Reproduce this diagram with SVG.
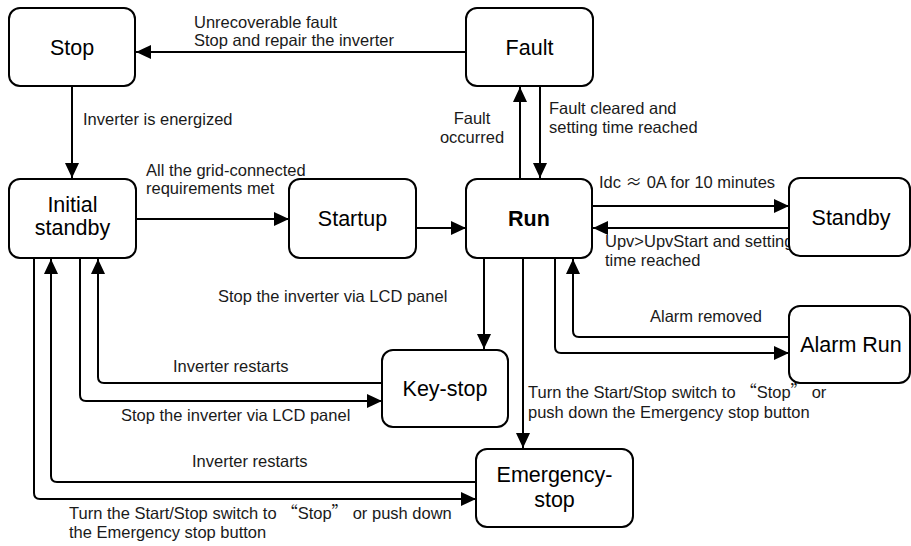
<svg xmlns="http://www.w3.org/2000/svg" width="911" height="546" viewBox="0 0 911 546">
  <style>
    .box { fill: #ffffff; stroke: #000000; stroke-width: 2; }
    .name { font-family: "Liberation Sans", Arial, sans-serif; font-size: 21.5px; fill: #000000; text-anchor: middle; }
    .bold { font-weight: bold; }
    .lbl { font-family: "Liberation Sans", Arial, sans-serif; font-size: 16.5px; fill: #1a1a1a; }
    .mid { text-anchor: middle; }
    .q { font-family: "Noto Sans CJK SC", sans-serif; }
    .wire { fill: none; stroke: #000000; stroke-width: 2; }
    .arr { marker-end: url(#head); }
  </style>
  <defs>
    <marker id="head" markerUnits="userSpaceOnUse" markerWidth="16" markerHeight="14" refX="15" refY="7" orient="auto">
      <path d="M0,0 L15,7 L0,14 Z" fill="#000000"/>
    </marker>
  </defs>
  <rect width="911" height="546" fill="#ffffff"/>

  <!-- transitions -->
  <g id="connectors">
    <path class="wire arr" d="M466,52 L136,52"/>
    <path class="wire arr" d="M72,86 L72,178"/>
    <path class="wire arr" d="M136,219 L289,219"/>
    <path class="wire arr" d="M416,228 L466,228"/>
    <path class="wire arr" d="M520,179 L520,87"/>
    <path class="wire arr" d="M540,86 L540,178"/>
    <path class="wire arr" d="M592,206 L789,206"/>
    <path class="wire arr" d="M789,228 L593,228"/>
    <path class="wire arr" d="M789,337 L579,337 Q573,337 573,331 L573,259"/>
    <path class="wire arr" d="M555,258 L555,347 Q555,353 561,353 L789,353"/>
    <path class="wire arr" d="M484,258 L484,349"/>
    <path class="wire arr" d="M523,258 L523,448"/>
    <path class="wire arr" d="M382,383 L104,383 Q98,383 98,377 L98,259"/>
    <path class="wire arr" d="M80,258 L80,395 Q80,401 86,401 L382,401"/>
    <path class="wire arr" d="M476,482 L57,482 Q51,482 51,476 L51,259"/>
    <path class="wire arr" d="M34,258 L34,493 Q34,499 40,499 L476,499"/>
  </g>

  <!-- transition labels -->
  <g id="labels">
    <text class="lbl" x="194" y="28">Unrecoverable fault</text>
    <text class="lbl" x="194" y="46">Stop and repair the inverter</text>
    <text class="lbl" x="83" y="125">Inverter is energized</text>
    <text class="lbl" x="146" y="176">All the grid-connected</text>
    <text class="lbl" x="146" y="194">requirements met</text>
    <text class="lbl mid" x="472" y="124">Fault</text>
    <text class="lbl mid" x="472" y="143">occurred</text>
    <text class="lbl" x="549" y="114">Fault cleared and</text>
    <text class="lbl" x="549" y="133">setting time reached</text>
    <text class="lbl" x="599" y="188">Idc <tspan class="q">≈</tspan> 0A for 10 minutes</text>
    <text class="lbl" x="605" y="247">Upv&gt;UpvStart and setting</text>
    <text class="lbl" x="605" y="266">time reached</text>
    <text class="lbl" x="650" y="322">Alarm removed</text>
    <text class="lbl" x="218" y="302">Stop the inverter via LCD panel</text>
    <text class="lbl" x="528" y="398">Turn the Start/Stop switch to <tspan class="q">“</tspan>Stop<tspan class="q">”</tspan> or</text>
    <text class="lbl" x="528" y="418">push down the Emergency stop button</text>
    <text class="lbl" x="173" y="372">Inverter restarts</text>
    <text class="lbl" x="121" y="421">Stop the inverter via LCD panel</text>
    <text class="lbl" x="192" y="467">Inverter restarts</text>
    <text class="lbl" x="69" y="519">Turn the Start/Stop switch to <tspan class="q">“</tspan>Stop<tspan class="q">”</tspan> or push down</text>
    <text class="lbl" x="69" y="538">the Emergency stop button</text>
  </g>

  <!-- states -->
  <g id="stop">
    <rect class="box" x="9" y="8" width="126" height="78" rx="11"/>
    <text class="name" x="72" y="55">Stop</text>
  </g>
  <g id="fault">
    <rect class="box" x="466" y="8" width="127" height="78" rx="11"/>
    <text class="name" x="529.5" y="55">Fault</text>
  </g>
  <g id="initial-standby">
    <rect class="box" x="9" y="179" width="127" height="79" rx="11"/>
    <text class="name" x="72.5" y="212">Initial</text>
    <text class="name" x="72.5" y="235">standby</text>
  </g>
  <g id="startup">
    <rect class="box" x="289" y="179" width="127" height="79" rx="11"/>
    <text class="name" x="352.5" y="226">Startup</text>
  </g>
  <g id="run">
    <rect class="box" x="466" y="179" width="126" height="79" rx="11"/>
    <text class="name bold" x="529" y="226">Run</text>
  </g>
  <g id="standby">
    <rect class="box" x="789" y="178" width="121" height="78" rx="11"/>
    <text class="name" x="851" y="225">Standby</text>
  </g>
  <g id="alarm-run">
    <rect class="box" x="789" y="306" width="121" height="77" rx="11"/>
    <text class="name" x="851" y="352">Alarm Run</text>
  </g>
  <g id="key-stop">
    <rect class="box" x="382" y="350" width="126" height="77" rx="11"/>
    <text class="name" x="445" y="396">Key-stop</text>
  </g>
  <g id="emergency-stop">
    <rect class="box" x="476" y="449" width="157" height="78" rx="11"/>
    <text class="name" x="554.5" y="482">Emergency-</text>
    <text class="name" x="554.5" y="507">stop</text>
  </g>
</svg>
